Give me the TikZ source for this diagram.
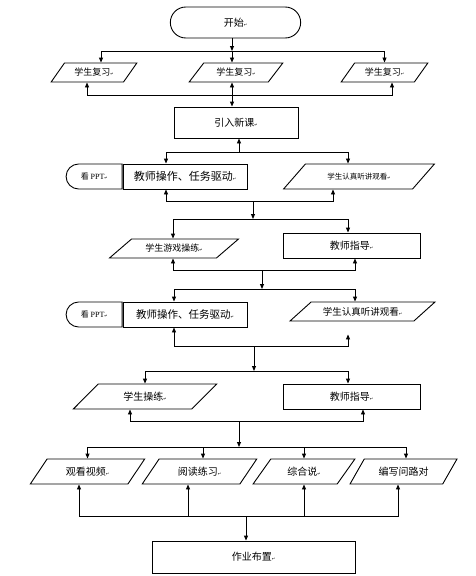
\documentclass[tikz,border=0pt]{standalone}
\usepackage{fontspec}
\setmainfont{Noto Sans CJK SC}
\newfontfamily\serifppt{Liberation Serif}
\newfontfamily\markfont{DejaVu Sans}
\usetikzlibrary{positioning,shapes.geometric,shapes.misc,arrows.meta}
\newcommand{\parmark}{{\markfont\fontsize{4}{4}\selectfont ↵}}
\newcommand{\fs}[1]{\fontsize{#1}{#1}\selectfont}

\tikzset{
  line/.style={line width=0.9pt},
  arr/.style={line, -{Triangle[length=5pt,width=4pt]}},
  procbox/.style={draw, line, inner sep=1pt, font=\fs{10}},
  iobox/.style={draw, line, trapezium, trapezium stretches=true, inner sep=1pt,
    trapezium left angle=#1, trapezium right angle=\the\numexpr180-#1\relax, font=\fs{10}},
  pptbox/.style={draw, line, rounded rectangle, rounded rectangle right arc=none,
    minimum width=58pt, minimum height=25pt, inner sep=1pt, anchor=east, font=\fs{8}},
}

\begin{document}
\begin{tikzpicture}[x=1pt,y=-1pt]
  \useasboundingbox (0,0) rectangle (475,576);
  % --- start and review ---
  \node[draw, line, rounded rectangle, minimum width=137pt, minimum height=31pt, font=\fs{10}] (start) at (235.5,22.5) {开始\parmark};
  \node[iobox=48, minimum width=86pt, minimum height=19pt, font=\fs{9}] (r1a) at (94,72.5) {学生复习\parmark};
  \node[iobox=48, minimum width=94pt, minimum height=19pt, font=\fs{9}] (r1b) at (236,72.5) {学生复习\parmark};
  \node[iobox=48, minimum width=87pt, minimum height=19pt, font=\fs{9}] (r1c) at (384.5,72.5) {学生复习\parmark};
  \node[procbox, minimum width=124pt, minimum height=31pt] (intro) at (236,122.5) {引入新课\parmark};
  % --- first teaching block ---
  \node[procbox, minimum width=124pt, minimum height=25pt, font=\fs{11}] (op1) at (185,176.5) {教师操作、任务驱动\parmark};
  \node[pptbox] (ppt1) at (op1.west) {看 {\serifppt PPT}\parmark};
  \node[iobox=34, minimum width=152pt, minimum height=25pt, font=\fs{7.5}] (listen1) at (359,176.5) {学生认真听讲观看\parmark};
  \node[iobox=34, minimum width=130pt, minimum height=19pt, font=\fs{9}] (game) at (174,248.5) {学生游戏操练\parmark};
  \node[procbox, minimum width=137pt, minimum height=25pt] (guide1) at (351.5,245.5) {教师指导\parmark};
  % --- second teaching block ---
  \node[procbox, minimum width=124pt, minimum height=25pt, font=\fs{10.5}] (op2) at (185,314.5) {教师操作、任务驱动\parmark};
  \node[pptbox] (ppt2) at (op2.west) {看 {\serifppt PPT}\parmark};
  \node[iobox=33, minimum width=145pt, minimum height=19pt, font=\fs{9.5}] (listen2) at (362.5,311.5) {学生认真听讲观看\parmark};
  \node[iobox=43, minimum width=144pt, minimum height=25pt] (drill) at (145,396.5) {学生操练\parmark};
  \node[procbox, minimum width=137pt, minimum height=25pt] (guide2) at (351.5,396.5) {教师指导\parmark};
  % --- practice ---
  \node[iobox=50, minimum width=115pt, minimum height=25pt] (video) at (87.5,471.5) {观看视频\parmark};
  \node[iobox=50, minimum width=115pt, minimum height=25pt] (read) at (199.5,471.5) {阅读练习\parmark};
  \node[iobox=50, minimum width=102pt, minimum height=25pt] (speak) at (304,471.5) {综合说\parmark};
  \node[iobox=50, minimum width=107pt, minimum height=25pt] (write) at (403.5,471.5) {编写问路对};
  \node[procbox, minimum width=203pt, minimum height=32pt] (hw) at (253.5,557) {作业布置\parmark};
  % bus junctions
  \coordinate (j1) at (232,51);
  \coordinate (j2) at (232,95);
  \coordinate (j3) at (239,152);
  \coordinate (j4) at (253,201);
  \coordinate (j5) at (253,219);
  \coordinate (j6) at (262,270);
  \coordinate (j7) at (262,289);
  \coordinate (j8) at (254,346);
  \coordinate (j9) at (254,371);
  \coordinate (j10) at (239,421);
  \coordinate (j11) at (239,447);
  \coordinate (j12) at (246,516);
  % connectors
  \draw[arr] (start.south -| j1) -- (j1);
  \draw[arr] (j1) -| ([xshift=7pt]r1a.north);
  \draw[arr] (j1) -- (r1b.north -| j1);
  \draw[arr] (j1) -| (r1c.north);
  \draw[arr] (j2) -| ([xshift=-7pt]r1a.south);
  \draw[arr] (j2) -- (r1b.south -| j2);
  \draw[arr] (j2) -| ([xshift=7.5pt]r1c.south);
  \draw[arr] (j2) -- (intro.north -| j2);
  \draw[arr] (j3) -- (intro.south -| j3);
  \draw[arr] (j3) -| ([xshift=-19pt]op1.north);
  \draw[arr] (j3) -| ([xshift=-11pt]listen1.north);
  \draw[arr] (j4) -| ([xshift=-19pt]op1.south);
  \draw[arr] (j4) -| ([xshift=-26pt]listen1.south);
  \draw[arr] (j4) -- (j5);
  \draw[arr] (j5) -| ([xshift=-1pt]game.north);
  \draw[arr] (j5) -| ([xshift=-3.5pt]guide1.north);
  \draw[arr] (j6) -| ([xshift=-1pt]game.south);
  \draw[arr] (j6) -| ([xshift=3.5pt]guide1.south);
  \draw[arr] (j6) -- (j7);
  \draw[arr] (j7) -| ([xshift=-11pt]op2.north);
  \draw[arr] (j7) -| ([xshift=-7.5pt]listen2.north);
  \draw[arr] (j8) -| ([xshift=-11pt]op2.south);
  \draw[arr] (j8) -| ([xshift=-14.5pt,yshift=-13pt]listen2.south);
  \draw[arr] (j8) -- (j9);
  \draw[arr] (j9) -| (drill.north);
  \draw[arr] (j9) -| ([xshift=-3.5pt]guide2.north);
  \draw[arr] (j10) -| ([xshift=-15pt]drill.south);
  \draw[arr] (j10) -| ([xshift=11.5pt]guide2.south);
  \draw[arr] (j10) -- (j11);
  \draw[arr] (j11) -| (video.north);
  \draw[arr] (j11) -| ([xshift=3.5pt]read.north);
  \draw[arr] (j11) -| (speak.north);
  \draw[arr] (j11) -| ([xshift=2.5pt]write.north);
  \draw[arr] (j12) -| ([xshift=-8.5pt]video.south);
  \draw[arr] (j12) -| ([xshift=-11.5pt]read.south);
  \draw[arr] (j12) -| (speak.south);
  \draw[arr] (j12) -| ([xshift=-5.5pt]write.south);
  \draw[arr] (j12) -- (hw.north -| j12);
\end{tikzpicture}
\end{document}
